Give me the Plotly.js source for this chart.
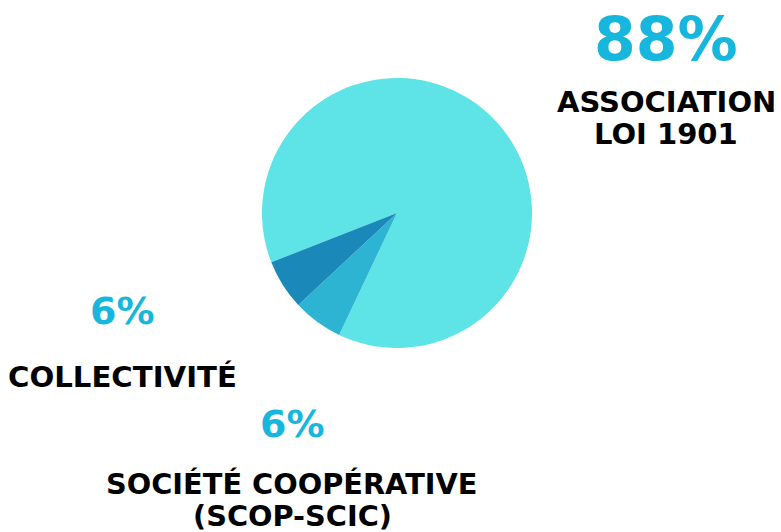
<!DOCTYPE html>
<html><head><meta charset="utf-8">
<script src="https://cdn.plot.ly/plotly-3.0.1.min.js"></script>
<style>html,body{margin:0;padding:0;background:#fff}</style>
</head><body><div id="chart" style="width:781px;height:532px"></div>
<script>
const categories = ["ASSOCIATION<br>LOI 1901", "SOCIÉTÉ COOPÉRATIVE<br>(SCOP-SCIC)", "COLLECTIVITÉ"];
const values = [88, 6, 6];
const percentLabels = ["88%", "6%", "6%"];
const colors = ["#5ee3e7", "#2eb4d3", "#1a88b9"];

const FONT = "DejaVu Sans";
const labelPos = [
  {x: 666, pctY: 39, pctSize: 60, lineY: [102, 134], catSize: 29},
  {x: 292, pctY: 424, pctSize: 38, lineY: [484, 516], catSize: 28.8},
  {x: 123, pctY: 311, pctSize: 38, lineY: [377], catSize: 29.2}
];
const annotations = [];
categories.forEach((c, i) => {
  const p = labelPos[i];
  annotations.push({x: p.x/781, y: 1 - p.pctY/532, xref: "paper", yref: "paper", text: percentLabels[i],
    showarrow: false, xanchor: "center", yanchor: "middle", borderpad: 0,
    font: {family: FONT, size: p.pctSize, color: "#17b6dc", weight: 900}});
  c.split("<br>").forEach((line, j) => {
    annotations.push({x: p.x/781, y: 1 - p.lineY[j]/532, xref: "paper", yref: "paper", text: line,
      showarrow: false, xanchor: "center", yanchor: "middle", borderpad: 0,
      font: {family: FONT, size: p.catSize, color: "#000", weight: 900}});
  });
});

Plotly.newPlot("chart", [{
  type: "pie", values: values, labels: categories, sort: false, direction: "clockwise",
  rotation: 248.6, marker: {colors: colors, line: {width: 0}}, textinfo: "none", hoverinfo: "none",
  domain: {x: [262/781, 532/781], y: [1 - 348/532, 1 - 78/532]}
}], {
  width: 781, height: 532, margin: {l: 0, r: 0, t: 0, b: 0}, showlegend: false,
  paper_bgcolor: "#fff", annotations: annotations
}, {displayModeBar: false, staticPlot: true});
</script></body></html>
